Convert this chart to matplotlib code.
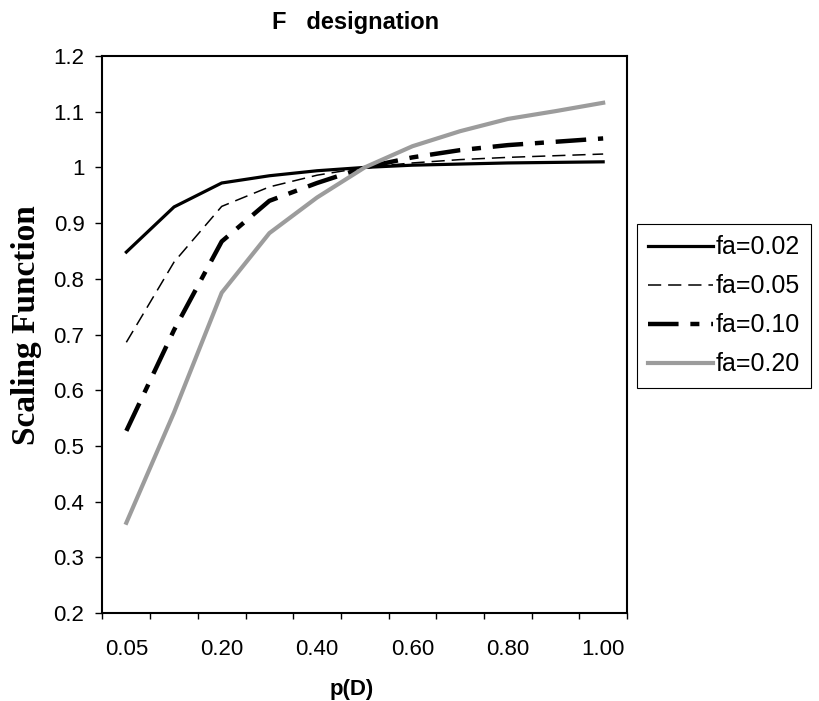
import matplotlib
matplotlib.use("Agg")
import matplotlib.pyplot as plt

plt.rcParams['lines.scale_dashes'] = False
plt.rcParams['font.family'] = ['Liberation Sans', 'DejaVu Sans']

# ---- data ----
p_labels = ['0.05', '0.10', '0.20', '0.30', '0.40', '0.50', '0.60', '0.70', '0.80', '0.90', '1.00']
fa_002 = [0.848, 0.929, 0.972, 0.985, 0.994, 1.000, 1.004, 1.006, 1.008, 1.009, 1.010]
fa_005 = [0.686, 0.830, 0.930, 0.965, 0.986, 1.000, 1.008, 1.014, 1.018, 1.021, 1.024]
fa_010 = [0.527, 0.708, 0.867, 0.940, 0.972, 1.000, 1.018, 1.031, 1.040, 1.046, 1.052]
fa_020 = [0.362, 0.560, 0.775, 0.882, 0.946, 1.000, 1.038, 1.065, 1.087, 1.101, 1.116]
series_names = ['fa=0.02', 'fa=0.05', 'fa=0.10', 'fa=0.20']
y_ticks = [0.2, 0.3, 0.4, 0.5, 0.6, 0.7, 0.8, 0.9, 1.0, 1.1, 1.2]
y_tick_labels = ['0.2', '0.3', '0.4', '0.5', '0.6', '0.7', '0.8', '0.9', '1', '1.1', '1.2']

W, H = 820, 701
fig = plt.figure(figsize=(W / 100, H / 100), dpi=100)
ax = fig.add_axes([102.5 / W, 1 - 613 / H, (627 - 102.5) / W, (613 - 56) / H])

x = list(range(len(p_labels)))
styles = [
    dict(color='black', lw=2.3, ls='-'),
    dict(color='black', lw=1.1, ls=(0, (9.5, 5.0))),
    dict(color='black', lw=3.2, ls=(0, (22, 8.5, 6.5, 8.5))),
    dict(color='#9c9c9c', lw=3.0, ls='-'),
]
for vals, name, st in zip([fa_002, fa_005, fa_010, fa_020], series_names, styles):
    ax.plot(x, vals, label=name, solid_joinstyle='miter', dash_capstyle='butt', **st)

ax.set_xlim(-0.5, len(p_labels) - 0.5)
ax.set_ylim(0.2, 1.2)

# category boundaries as tick marks, labels on every other category
ax.set_xticks([i - 0.5 for i in range(len(p_labels) + 1)])
ax.set_xticklabels([])
ax.set_xticks(x[::2], minor=True)
ax.set_xticklabels(p_labels[::2], minor=True)
ax.tick_params(axis='x', which='major', direction='out', length=4.5, width=1.0, color='black')
ax.tick_params(axis='x', which='minor', length=0, pad=19, labelsize=16)

ax.set_yticks(y_ticks)
ax.set_yticklabels(y_tick_labels)
ax.tick_params(axis='y', direction='out', length=5, width=1.0, pad=8, labelsize=16)

for s in ax.spines.values():
    s.set_linewidth(1.5)
    s.set_color('black')

fig.text(355.5 / W, 1 - 28.5 / H, 'F   designation', ha='center', va='baseline',
         fontsize=17, fontweight='bold')
fig.text(352 / W, 1 - 695 / H, 'p(D)', ha='center', va='baseline',
         fontsize=16, fontweight='bold')
fig.text(27 / W, 1 - 325 / H, 'Scaling Function', ha='center', va='center',
         rotation=90, fontsize=24, fontweight='bold',
         family=['Liberation Serif', 'DejaVu Serif'])

handles, labels = ax.get_legend_handles_labels()
leg = fig.legend(handles, labels, loc='upper left',
                 bbox_to_anchor=(637 / W, 1 - 224 / H), borderaxespad=0,
                 prop={'size': 18}, handlelength=2.6, handletextpad=0.1,
                 labelspacing=0.6, borderpad=0.45, fancybox=False,
                 framealpha=1, edgecolor='black')
leg.get_frame().set_linewidth(0.8)

fig.savefig('out.png', dpi=100)
